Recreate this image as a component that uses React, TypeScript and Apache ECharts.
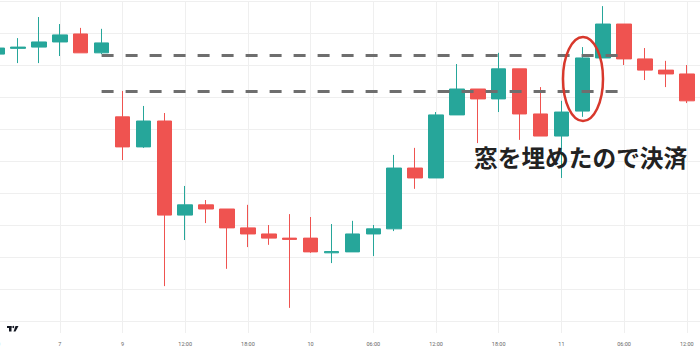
import React, { useEffect, useRef } from "react";
import * as echarts from "echarts";

// x-axis tick labels (every third candle)
const tickLabels = ["30", "7", "9", "12:00", "18:00", "10", "06:00", "12:00", "18:00", "11", "06:00", "12:00"];

// candle values (open, close, low, high)
const opens = [83.4, 85.2, 85.6, 87.2, 89.7, 83.8, 63.8, 54.4, 62.5, 33.1, 36.3, 35.0, 29.1, 27.2, 25.9, 25.9, 21.3, 21.6, 27.2, 28.8, 47.8, 44.7, 64.4, 72.5, 69.4, 78.8, 64.7, 57.8, 65.6, 82.2, 92.8, 81.9, 78.4, 77.2, 69.1];
const closes = [85.3, 85.6, 87.2, 89.4, 83.8, 86.9, 54.4, 62.5, 33.1, 36.3, 35.0, 29.1, 27.2, 25.9, 25.5, 21.6, 21.7, 27.2, 28.8, 47.8, 44.7, 64.4, 72.5, 69.4, 78.8, 64.7, 57.8, 65.3, 82.2, 92.8, 81.9, 78.4, 77.2, 68.8, 64.4];
const lows = [82.8, 80.6, 80.6, 82.8, 83.8, 83.4, 50.3, 54.1, 10.9, 25.3, 30.6, 16.3, 23.1, 23.8, 4.1, 21.3, 18.1, 21.6, 20.3, 28.1, 41.3, 44.7, 64.4, 55.6, 65.3, 56.6, 57.8, 44.7, 63.8, 82.2, 80.0, 75.3, 73.1, 68.1, 62.8];
const highs = [86.3, 88.4, 95.0, 92.8, 91.6, 91.3, 71.9, 67.2, 65.0, 42.2, 37.8, 35.0, 36.3, 30.0, 33.4, 32.5, 30.3, 31.3, 30.0, 51.9, 54.1, 65.3, 80.3, 72.5, 83.8, 78.8, 73.1, 68.8, 85.6, 98.4, 92.8, 85.3, 81.3, 80.0, 70.6];

// window (gap) levels
const gapUpper = 83.1;
const gapLower = 71.9;
const gapStartIndex = 5;
const gapEndIndex = 30;

const annotation = "窓を埋めたので決済";

export default function App() {
  const ref = useRef<HTMLDivElement>(null);

  useEffect(() => {
    if (!ref.current) return;
    const chart = echarts.init(ref.current, undefined, { renderer: "svg" });
    const categories = opens.map((_, i) => `bar${i}`);
    const data = opens.map((o, i) => [o, closes[i], lows[i], highs[i]]);
    const gridColor = "#efefef";

    chart.setOption({
      animation: false,
      backgroundColor: "#ffffff",
      grid: {
        left: -13.35,
        right: -18.15,
        top: 1,
        bottom: 29,
        containLabel: false,
        outerBoundsMode: "none",
      },
      xAxis: {
        type: "category",
        data: categories,
        boundaryGap: true,
        axisLine: { show: false },
        axisTick: {
          show: true,
          alignWithLabel: true,
          interval: 2,
          length: 12,
          lineStyle: { color: gridColor },
        },
        splitLine: {
          show: true,
          interval: 2,
          alignWithLabel: true,
          lineStyle: { color: gridColor, width: 1 },
        },
        axisLabel: {
          interval: 2,
          margin: 20,
          fontSize: 5.5,
          color: "#666666",
          fontFamily: "Roboto",
          formatter: (_v: string, idx: number) => (idx % 3 === 0 ? tickLabels[idx / 3] ?? "" : ""),
        },
      },
      yAxis: {
        type: "value",
        min: 0,
        max: 100,
        interval: 10,
        axisLine: { show: false },
        axisTick: { show: false },
        axisLabel: { show: false },
        splitLine: { show: true, lineStyle: { color: gridColor, width: 1 } },
      },
      series: [
        {
          type: "candlestick",
          data,
          barWidth: 15,
          itemStyle: {
            color: "#26a69a",
            color0: "#ef5350",
            borderColor: "#26a69a",
            borderColor0: "#ef5350",
            borderWidth: 1,
          },
          markLine: {
            silent: true,
            symbol: ["none", "none"],
            label: { show: false },
            lineStyle: { color: "#6e6e6e", width: 3, type: [12, 12] },
            data: [
              [
                { coord: [categories[gapStartIndex], gapUpper] },
                { coord: [categories[gapEndIndex], gapUpper] },
              ],
              [
                { coord: [categories[gapStartIndex], gapLower] },
                { coord: [categories[gapEndIndex], gapLower] },
              ],
            ],
          },
        },
      ],
      graphic: [
        {
          type: "ellipse",
          z: 100,
          shape: { cx: 583, cy: 79, rx: 20, ry: 42 },
          style: { fill: "none", stroke: "#d8382c", lineWidth: 2.5 },
        },
        {
          type: "text",
          z: 100,
          x: 474,
          y: 157,
          style: {
            text: annotation,
            fontSize: 23.7,
            fontWeight: "bold",
            fontFamily: "Noto Sans CJK JP",
            fill: "#222222",
            verticalAlign: "middle",
            align: "left",
          },
        },
        {
          type: "group",
          x: 7,
          y: 326,
          z: 100,
          children: [
            { type: "rect", shape: { x: 0, y: 0, width: 4.5, height: 2 }, style: { fill: "#131722" } },
            { type: "rect", shape: { x: 2, y: 0, width: 2.5, height: 5.5 }, style: { fill: "#131722" } },
            { type: "circle", shape: { cx: 6.2, cy: 1, r: 1 }, style: { fill: "#131722" } },
            {
              type: "polygon",
              shape: { points: [[8.5, 0], [11.5, 0], [8.5, 5.5], [6.5, 5.5]] },
              style: { fill: "#131722" },
            },
          ],
        },
      ],
    });

    return () => chart.dispose();
  }, []);

  return (
    <div
      ref={ref}
      style={{ position: "fixed", left: 0, top: 0, width: 700, height: 350, background: "#fff" }}
    />
  );
}
